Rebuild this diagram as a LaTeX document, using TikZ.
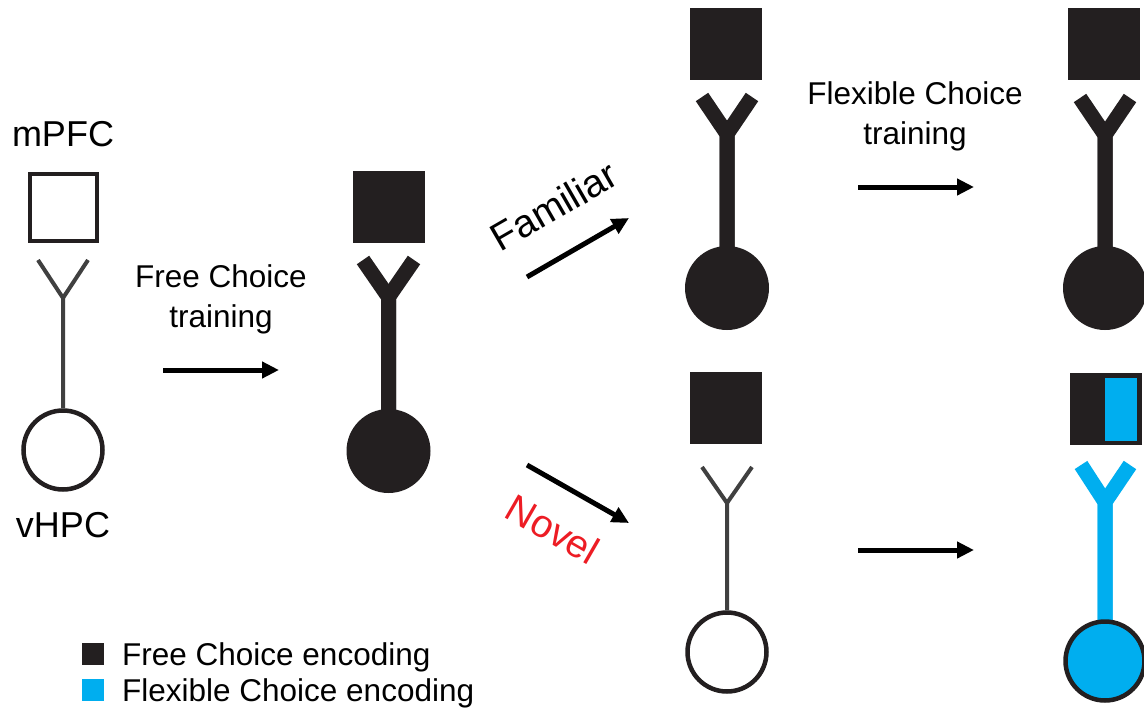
\documentclass[tikz,border=0pt]{standalone}
\usepackage{fontspec}
\setmainfont{Liberation Sans}
\usetikzlibrary{arrows.meta}
\definecolor{ink}{HTML}{231F20}
\definecolor{cyanb}{HTML}{00AEEF}
\definecolor{thinc}{HTML}{404040}
\definecolor{redt}{HTML}{ED1C24}
\tikzset{
  sqfill/.style={fill=ink, draw=none, minimum size=72pt, inner sep=0pt, outer sep=0pt},
  sqopen/.style={draw=ink, fill=white, line width=4pt, minimum size=67pt, inner sep=0pt},
  cfill/.style={circle, fill=ink, draw=none, minimum size=84pt, inner sep=0pt},
  copen/.style={circle, draw=ink, fill=white, line width=4.5pt, minimum size=79pt, inner sep=0pt},
  cblue/.style={circle, draw=ink, fill=cyanb, line width=4.5pt, minimum size=79pt, inner sep=0pt},
  ythin/.style={draw=thinc, line width=4pt, line join=miter},
  ythick/.style={draw=ink, line width=15pt, line join=miter},
  yblue/.style={draw=cyanb, line width=15pt, line join=miter},
  arr/.style={draw=black, line width=5pt, -{Triangle[length=17pt,width=16pt]}},
  lab/.style={font=\fontsize{31.5}{36}\selectfont, inner sep=0pt, anchor=base},
  big/.style={font=\fontsize{36}{40}\selectfont, inner sep=0pt, anchor=base},
  rot/.style={font=\fontsize{39}{44}\selectfont, inner sep=0pt},
  leg/.style={font=\fontsize{31.5}{36}\selectfont, inner sep=0pt, anchor=base west},
}
\begin{document}
\begin{tikzpicture}[x=1pt,y=-1pt]
\useasboundingbox[fill=white] (0,0) rectangle (1144,712);

% ---- left neuron (untrained)
\node[sqopen] (s1) at (63.5,207.5) {};
\node[copen] (c1) at (63,450) {};
\coordinate (j1) at (63,298);
\coordinate (a1) at (38,260);
\coordinate (b1) at (88,260);
\draw[ythin] (a1) -- (j1) -- (c1.north);
\draw[ythin] (b1) -- (j1);
\node[big] (mpfc) at (63,146) {mPFC};
\node[big] (vhpc) at (63,537) {vHPC};

% ---- middle neuron
\node[sqfill] (s2) at (388.5,207) {};
\coordinate (j2) at (388.5,297);
\coordinate (a2) at (363,260);
\coordinate (b2) at (414,260);
\draw[ythick] (a2) -- (j2) -- (388.5,430);
\draw[ythick] (b2) -- (j2) -- (388.5,430);
\node[cfill] (c2) at (388.5,451) {};

% ---- top right neuron (familiar)
\node[sqfill] (s3) at (726,43.5) {};
\coordinate (j3) at (727,134);
\coordinate (a3) at (702,97);
\coordinate (b3) at (752,97);
\draw[ythick] (a3) -- (j3) -- (727,270);
\draw[ythick] (b3) -- (j3) -- (727,270);
\node[cfill] (c3) at (727,288) {};

% ---- far top right neuron
\node[sqfill] (s4) at (1104,44) {};
\coordinate (j4) at (1105,135);
\coordinate (a4) at (1080,98);
\coordinate (b4) at (1130,98);
\draw[ythick] (a4) -- (j4) -- (1105,270);
\draw[ythick] (b4) -- (j4) -- (1105,270);
\node[cfill] (c4) at (1105,288) {};

% ---- bottom middle neuron (novel)
\node[sqfill] (s5) at (726,408) {};
\node[copen] (c5) at (727,652) {};
\coordinate (j5) at (727,503);
\coordinate (a5) at (702,467);
\coordinate (b5) at (752,467);
\draw[ythin] (a5) -- (j5) -- (c5.north);
\draw[ythin] (b5) -- (j5);

% ---- bottom far right neuron (flexible)
\node[sqfill] (s6) at (1105.5,409) {};
\node[fill=cyanb, inner sep=0pt, minimum width=32pt, minimum height=63pt] (s6b) at (1121,409.5) {};
\coordinate (j6) at (1105,502);
\coordinate (a6) at (1081,465);
\coordinate (b6) at (1130,465);
\draw[yblue] (a6) -- (j6) -- (1105,640);
\draw[yblue] (b6) -- (j6) -- (1105,640);
\node[cblue] (c6) at (1105,661) {};

% ---- arrows and labels
\coordinate (f1) at (163,370); \coordinate (f2) at (279,370);
\draw[arr] (f1) -- (f2);
\node[lab] (t1) at (221,287) {Free Choice};
\node[lab] (t2) at (221,327) {training};

\coordinate (m1) at (527,277); \coordinate (m2) at (629,218);
\draw[arr] (m1) -- (m2);
\node[rot, rotate=30] (fam) at (554,206) {Familiar};

\coordinate (n1) at (527,465); \coordinate (n2) at (629,523);
\draw[arr] (n1) -- (n2);
\node[rot, rotate=-30, text=redt] (nov) at (553,529) {Novel};

\coordinate (g1) at (858,187); \coordinate (g2) at (974,187);
\draw[arr] (g1) -- (g2);
\node[lab] (t3) at (915,104) {Flexible Choice};
\node[lab] (t4) at (915,144) {training};

\coordinate (h1) at (858,550); \coordinate (h2) at (974,550);
\draw[arr] (h1) -- (h2);

% ---- legend
\node[fill=ink, inner sep=0pt, minimum size=22pt] (l1) at (92.5,654) {};
\node[fill=cyanb, inner sep=0pt, minimum size=22pt] (l2) at (92.5,690) {};
\node[leg] (lt1) at (122,665) {Free Choice encoding};
\node[leg] (lt2) at (122,701) {Flexible Choice encoding};
\end{tikzpicture}
\end{document}
